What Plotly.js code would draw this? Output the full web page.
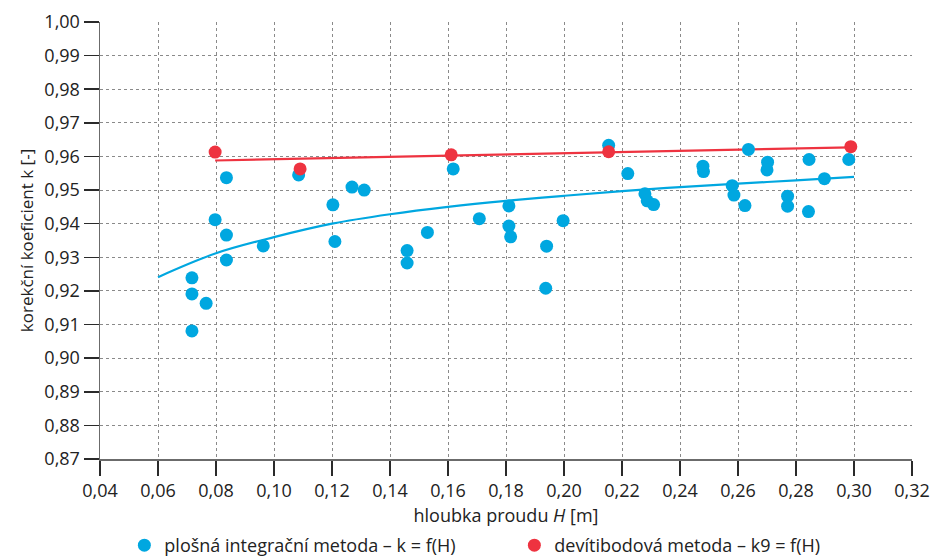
<!DOCTYPE html>
<html>
<head>
<meta charset="utf-8">
<script src="https://cdn.plot.ly/plotly-3.0.1.min.js"></script>
<style>html,body{margin:0;padding:0;background:#fff;}#chart{width:931px;height:560px;}</style>
</head>
<body>
<div id="chart"></div>
<script>
// plošná integrační metoda – measured points
const blueH = [0.0717,0.0717,0.0766,0.0717,0.0797,0.0836,0.0836,0.0836,0.0963,0.1085,
  0.1203,0.1210,0.1269,0.1311,0.1459,0.1459,0.1529,0.1618,0.1708,0.1810,
  0.1810,0.1816,0.1940,0.1937,0.1997,0.2154,0.2220,0.2279,0.2287,0.2309,
  0.2479,0.2481,0.2580,0.2586,0.2624,0.2636,0.2702,0.2700,0.2771,0.2771,
  0.2845,0.2843,0.2898,0.2982];
const blueK = [0.9239,0.9191,0.9163,0.9081,0.9412,0.9537,0.9366,0.9292,0.9334,0.9545,
  0.9456,0.9347,0.9509,0.9500,0.9320,0.9283,0.9374,0.9563,0.9415,0.9453,
  0.9393,0.9361,0.9333,0.9208,0.9409,0.9633,0.9549,0.9489,0.9468,0.9457,
  0.9571,0.9555,0.9513,0.9485,0.9454,0.9621,0.9583,0.9560,0.9482,0.9452,
  0.9591,0.9436,0.9534,0.9591];
// devítibodová metoda – measured points
const redH = [0.0797,0.1090,0.1611,0.2154,0.2989];
const redK = [0.9613,0.9563,0.9605,0.9614,0.9629];
// trend curves
const blueTrendH = [0.06,0.08,0.10,0.12,0.14,0.16,0.18,0.20,0.22,0.24,0.26,0.28,0.30];
const blueTrendK = [0.9241,0.9312,0.9360,0.9400,0.9428,0.9450,0.9468,0.9483,0.9497,0.9509,0.9519,0.9529,0.9539];
const redTrendH = [0.0797,0.2989];
const redTrendK = [0.9588,0.9627];

const legendNames = ["plošná integrační metoda – k = f(H)", "devítibodová metoda – k9 = f(H)"];
const xTitle = "hloubka proudu <i>H</i> [m]";
const yTitle = "korekční koeficient k [-]";

const BLUE = "#00a7e0";
const RED = "#ee3340";
const FONT = "'Open Sans', 'Noto Sans', sans-serif";

const traces = [
  {x: blueTrendH, y: blueTrendK, mode: "lines", line: {color: BLUE, width: 2.2, shape: "spline"}, showlegend: false, hoverinfo: "skip"},
  {x: redTrendH, y: redTrendK, mode: "lines", line: {color: RED, width: 2.2}, showlegend: false, hoverinfo: "skip"},
  {x: blueH, y: blueK, mode: "markers", name: legendNames[0], marker: {color: BLUE, size: 13}},
  {x: redH, y: redK, mode: "markers", name: legendNames[1], marker: {color: RED, size: 13}}
];

const axisCommon = {
  showgrid: true, gridcolor: "#8a8a8a", griddash: "dot", gridwidth: 1,
  showline: true, linecolor: "#6b6b6b", linewidth: 1.5,
  ticks: "outside", ticklen: 15, tickwidth: 1.5, tickcolor: "#2a2a2a",
  tickfont: {family: FONT, size: 18, color: "#222"},
  zeroline: false, tickformat: ".2f", automargin: false
};

const layout = {
  width: 931, height: 560,
  margin: {l: 100, r: 19, t: 22, b: 101},
  paper_bgcolor: "#fff", plot_bgcolor: "#fff",
  separators: ", ",
  font: {family: FONT, color: "#222"},
  xaxis: Object.assign({}, axisCommon, {
    range: [0.04, 0.32], dtick: 0.02, tick0: 0.04,
    title: {text: xTitle, font: {family: FONT, size: 18, color: "#222"}, standoff: 13}
  }),
  yaxis: Object.assign({}, axisCommon, {
    range: [0.87, 1.00], dtick: 0.01, tick0: 0.87,
    title: {text: yTitle, font: {family: FONT, size: 17, color: "#222"}, standoff: 6}
  }),
  legend: {
    orientation: "h", x: 0.03, xanchor: "left",
    yref: "container", y: 0.026, yanchor: "middle",
    font: {family: FONT, size: 18, color: "#222"},
    itemwidth: 30, entrywidth: 345, entrywidthmode: "pixels", bgcolor: "rgba(0,0,0,0)"
  },
  showlegend: true
};

Plotly.newPlot("chart", traces, layout, {displayModeBar: false, staticPlot: true});
</script>
</body>
</html>
